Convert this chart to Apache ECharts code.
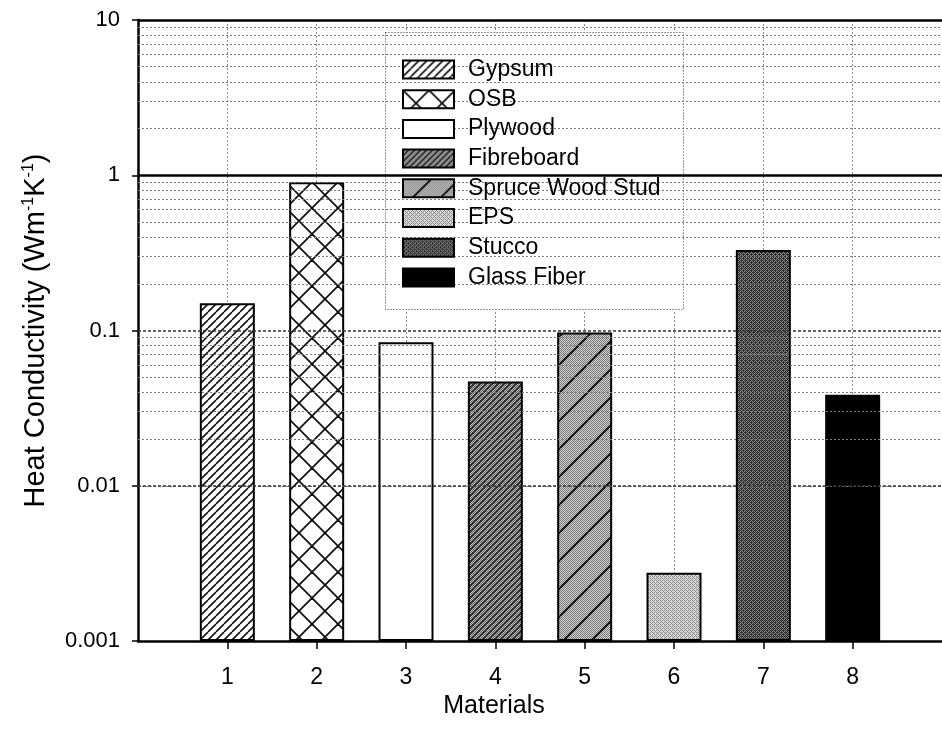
<!DOCTYPE html>
<html>
<head>
<meta charset="utf-8">
<script src="https://cdn.jsdelivr.net/npm/echarts@6/dist/echarts.min.js"></script>
<style>
  html, body { margin: 0; padding: 0; background: #fff; }
  #chart { width: 942px; height: 742px; }
</style>
</head>
<body>
<div id="chart"></div>
<script>
// Material names (legend) and their x positions on the "Materials" axis
const materials = ['Gypsum', 'OSB', 'Plywood', 'Fibreboard', 'Spruce Wood Stud', 'EPS', 'Stucco', 'Glass Fiber'];
const positions = [1, 2, 3, 4, 5, 6, 7, 8];
// Heat conductivity, W m^-1 K^-1
const conductivity = [0.15, 0.90, 0.084, 0.047, 0.097, 0.00275, 0.33, 0.0386];
// Axis tick labels
const xTickLabels = ['1', '2', '3', '4', '5', '6', '7', '8'];
const yTickValues = [0.001, 0.01, 0.1, 1, 10];
const yTickLabels = ['0.001', '0.01', '0.1', '1', '10'];

const FONT = '"Liberation Sans", Arial, sans-serif';

// ---- fill patterns -------------------------------------------------------
function tile(size, paint) {
  const c = document.createElement('canvas');
  c.width = size; c.height = size;
  const g = c.getContext('2d');
  paint(g, size);
  return { image: c, repeat: 'repeat' };
}
function diagonals(g, s, color, width, dir) {
  g.strokeStyle = color; g.lineWidth = width;
  for (let k = -1; k <= 1; k++) {
    g.beginPath();
    if (dir === '/') { g.moveTo(k * s, s); g.lineTo(k * s + s, 0); }
    else { g.moveTo(k * s, 0); g.lineTo(k * s + s, s); }
    g.stroke();
  }
}
// ordered-dither halftone: level in 0..16 = number of dark cells per 4x4
const bayer = [0, 8, 2, 10, 12, 4, 14, 6, 3, 11, 1, 9, 15, 7, 13, 5];
function halftone(g, s, level, dark, light) {
  g.fillStyle = light; g.fillRect(0, 0, s, s);
  g.fillStyle = dark;
  for (let y = 0; y < s; y++) for (let x = 0; x < s; x++) {
    if (bayer[(y % 4) * 4 + (x % 4)] < level) g.fillRect(x, y, 1, 1);
  }
}

const fills = [
  tile(8, (g, s) => { g.fillStyle = '#fff'; g.fillRect(0, 0, s, s); diagonals(g, s, '#111', 1.6, '/'); }),
  tile(26, (g, s) => { g.fillStyle = '#fff'; g.fillRect(0, 0, s, s); diagonals(g, s, '#111', 1.8, '/'); diagonals(g, s, '#111', 1.8, '\\'); }),
  '#ffffff',
  tile(6, (g, s) => { halftone(g, s, 8, '#5e5e5e', '#c0c0c0'); diagonals(g, s, '#2a2a2a', 1.6, '/'); }),
  tile(28, (g, s) => { halftone(g, s, 8, '#7a7a7a', '#d0d0d0'); diagonals(g, s, '#111', 2, '/'); }),
  tile(8, (g, s) => { halftone(g, s, 6, '#8a8a8a', '#d8d8d8'); }),
  tile(8, (g, s) => { halftone(g, s, 10, '#2e2e2e', '#8c8c8c'); }),
  '#000000'
];

// ---- reference lines drawn in data space ---------------------------------
const minorLines = [];
[0.001, 0.01, 0.1, 1].forEach(d => {
  [2, 3, 4, 5, 6, 7, 8, 9].forEach(m => minorLines.push({ yAxis: +(d * m).toPrecision(3) }));
});
const gridSeries = [
  {
    type: 'line', data: [], z: 1, silent: true,
    markLine: {
      silent: true, symbol: 'none', label: { show: false },
      lineStyle: { color: '#7a7a7a', width: 1, type: [2, 2] },
      data: minorLines
    }
  },
  {
    type: 'line', data: [], z: 1, silent: true,
    markLine: {
      silent: true, symbol: 'none', label: { show: false },
      lineStyle: { color: '#333', width: 1.5, type: [3, 2] },
      data: [{ yAxis: 0.01 }, { yAxis: 0.1 }]
    }
  },
  {
    type: 'line', data: [], z: 1, silent: true,
    markLine: {
      silent: true, symbol: 'none', label: { show: false },
      lineStyle: { color: '#000', width: 2.5, type: 'solid' },
      data: [{ yAxis: 1 }, { yAxis: 10 }]
    }
  }
];

const barSeries = materials.map((name, i) => ({
  name: name,
  type: 'bar',
  z: 3,
  barWidth: 55,
  barGap: '-100%',
  data: [[positions[i], conductivity[i]]],
  itemStyle: { color: fills[i], borderColor: '#000', borderWidth: 2 }
}));

const chart = echarts.init(document.getElementById('chart'), null, { renderer: 'canvas' });
chart.setOption({
  animation: false,
  backgroundColor: '#fff',
  grid: { left: 138, top: 20, width: 811, height: 621, containLabel: false },
  xAxis: {
    type: 'value', min: 0, max: 9, interval: 1,
    name: 'Materials', nameLocation: 'middle', nameGap: 53,
    nameTextStyle: { fontFamily: FONT, fontSize: 25, color: '#000', padding: [0, 92, 0, 0] },
    axisLine: { show: true, lineStyle: { color: '#000', width: 2.5 } },
    axisTick: { show: true, inside: false, length: 8, lineStyle: { color: '#000', width: 1.5 }, customValues: positions },
    axisLabel: {
      margin: 25, fontFamily: FONT, fontSize: 23, color: '#000',
      customValues: positions,
      formatter: v => xTickLabels[positions.indexOf(v)] || ''
    },
    splitLine: { show: true, lineStyle: { color: '#8c8c8c', width: 1, type: [2, 2] } }
  },
  yAxis: {
    type: 'log', logBase: 10, min: 0.001, max: 10, startValue: 0.001,
    name: '{t|Heat Conductivity (Wm}{s|-1}{t|K}{s|-1}{t|)}',
    nameLocation: 'middle', nameGap: 87, nameRotate: 90,
    nameTextStyle: {
      rich: {
        t: { fontFamily: FONT, fontSize: 29, color: '#000', lineHeight: 30 },
        s: { fontFamily: FONT, fontSize: 16, color: '#000', lineHeight: 30, padding: [0, 0, 14, 0] }
      }
    },
    axisLine: { show: true, lineStyle: { color: '#000', width: 2.5 } },
    axisTick: { show: true, inside: false, length: 6, lineStyle: { color: '#000', width: 1.5 } },
    axisLabel: {
      margin: 18, fontFamily: FONT, fontSize: 22, color: '#000',
      formatter: v => {
        const idx = yTickValues.findIndex(t => Math.abs(Math.log10(t) - Math.log10(v)) < 1e-6);
        return idx >= 0 ? yTickLabels[idx] : '';
      }
    },
    splitLine: { show: false },
    minorTick: { show: false }
  },
  legend: {
    orient: 'vertical', left: 402, top: 58, padding: 0,
    itemWidth: 51, itemHeight: 18, itemGap: 6.7,
    icon: 'rect', z: 10,
    data: materials,
    textStyle: { fontFamily: FONT, fontSize: 23, color: '#000', lineHeight: 20, padding: [0, 0, 0, 9] }
  },
  graphic: [{
    type: 'rect', z: 5, silent: true,
    shape: { x: 385.5, y: 32.5, width: 298, height: 277 },
    style: { fill: '#fff', stroke: '#333', lineWidth: 1, lineDash: [1, 2] }
  }],
  series: gridSeries.concat(barSeries)
});
</script>
</body>
</html>
